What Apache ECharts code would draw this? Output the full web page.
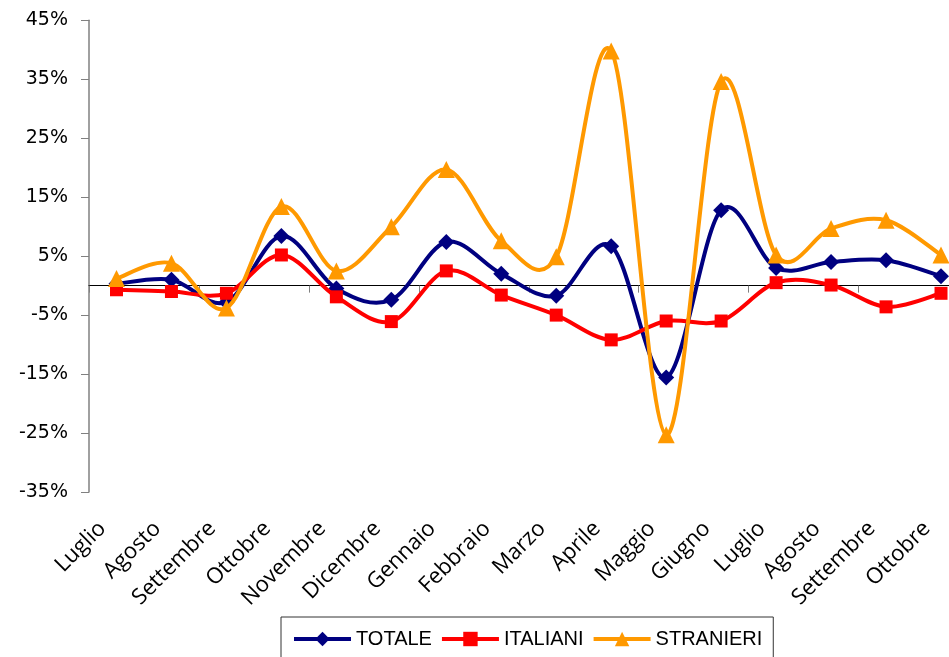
<!DOCTYPE html>
<html>
<head>
<meta charset="utf-8">
<script src="https://cdn.jsdelivr.net/npm/echarts@6/dist/echarts.min.js"></script>
<style>
html, body { margin: 0; padding: 0; background: #fff; }
#chart { width: 949px; height: 657px; }
</style>
</head>
<body>
<div id="chart"></div>
<script>
var mesi = ['Luglio', 'Agosto', 'Settembre', 'Ottobre', 'Novembre', 'Dicembre', 'Gennaio', 'Febbraio',
	'Marzo', 'Aprile', 'Maggio', 'Giugno', 'Luglio', 'Agosto', 'Settembre', 'Ottobre'];
var totale = [0.3, 1.0, -2.8, 8.4, -0.5, -2.4, 7.4, 2.0, -1.7, 6.7, -15.6, 12.8, 3.0, 4.0, 4.3, 1.6];
var italiani = [-0.7, -1.0, -1.3, 5.2, -1.9, -6.1, 2.5, -1.6, -5.0, -9.2, -6.0, -6.0, 0.5, 0.1, -3.6, -1.3];
var stranieri = [1.2, 3.8, -3.8, 13.4, 2.5, 10.0, 19.7, 7.6, 4.9, 39.8, -25.3, 34.6, 5.2, 9.7, 11.1, 5.2];
var yTicks = [-35, 45, 10]; // min, max, passo

var myChart = echarts.init(document.getElementById('chart'));

// curva smussata stile Excel (Catmull-Rom), un tratto per ogni coppia di punti
function curva(valori, colore, z) {
	var n = valori.length;
	return {
		type: 'custom',
		xAxisIndex: 0,
		z: z,
		silent: true,
		data: valori.map(function(v, i) { return [i, v]; }),
		renderItem: function(params, api) {
			var i = params.dataIndex;
			if (i >= n - 1) {
				return;
			}
			var p = [i - 1, i, i + 1, i + 2].map(function(k) {
				k = Math.max(0, Math.min(n - 1, k));
				return api.coord([k, valori[k]]);
			});
			return {
				type: 'bezierCurve',
				shape: {
					x1: p[1][0], y1: p[1][1],
					x2: p[2][0], y2: p[2][1],
					cpx1: p[1][0] + (p[2][0] - p[0][0]) / 6,
					cpy1: p[1][1] + (p[2][1] - p[0][1]) / 6,
					cpx2: p[2][0] - (p[3][0] - p[1][0]) / 6,
					cpy2: p[2][1] - (p[3][1] - p[1][1]) / 6
				},
				style: { stroke: colore, lineWidth: 4, fill: null, lineCap: 'round' }
			};
		}
	};
}

function serie(nome, dati, colore, simbolo, dim, z) {
	return {
		name: nome,
		type: 'line',
		data: dati,
		z: z,
		symbol: simbolo,
		symbolSize: dim,
		showAllSymbol: true,
		lineStyle: { color: colore, width: 0, opacity: 0 },
		itemStyle: { color: colore },
		emphasis: { disabled: true }
	};
}

var option = {
	animation: false,
	grid: { left: 89, right: -19.5, top: 20.3, bottom: 165, outerBoundsMode: 'none', containLabel: false },
	legend: {
		left: 281,
		top: 617,
		padding: [12, 11],
		itemGap: 8,
		itemWidth: 57,
		itemHeight: 18,
		borderColor: '#333',
		borderWidth: 1,
		lineStyle: { width: 4, opacity: 1 },
		textStyle: { fontFamily: 'Liberation Sans', fontSize: 20, color: '#000' },
		data: ['TOTALE', 'ITALIANI', 'STRANIERI']
	},
	xAxis: [{
		type: 'category',
		data: mesi,
		axisLine: { onZero: true, lineStyle: { color: '#000', width: 1 } },
		axisTick: { show: true, length: 7, lineStyle: { color: '#808080' } },
		axisLabel: { show: false }
	}, {
		type: 'category',
		data: mesi,
		position: 'bottom',
		axisLine: { show: false, onZero: false },
		axisTick: { show: false },
		axisLabel: {
			interval: 0,
			rotate: 45,
			margin: 19,
			padding: [0, 20, 0, 0],
			fontFamily: 'Open Sans',
			fontSize: 22,
			color: '#000'
		}
	}],
	yAxis: {
		type: 'value',
		min: yTicks[0],
		max: yTicks[1],
		interval: yTicks[2],
		splitLine: { show: false },
		axisLine: { show: true, lineStyle: { color: '#808080', width: 1.5 } },
		axisTick: { show: true, length: 8, lineStyle: { color: '#808080' } },
		axisLabel: {
			formatter: '{value}%',
			margin: 21,
			fontFamily: 'DejaVu Sans',
			fontSize: 19,
			color: '#000'
		}
	},
	series: [
		curva(totale, '#000080', 2),
		serie('TOTALE', totale, '#000080', 'diamond', 16, 3),
		curva(italiani, '#ff0000', 4),
		serie('ITALIANI', italiani, '#ff0000', 'rect', 13, 5),
		curva(stranieri, '#ff9900', 6),
		serie('STRANIERI', stranieri, '#ff9900', 'triangle', 17, 7)
	]
};

myChart.setOption(option);
</script>
</body>
</html>
